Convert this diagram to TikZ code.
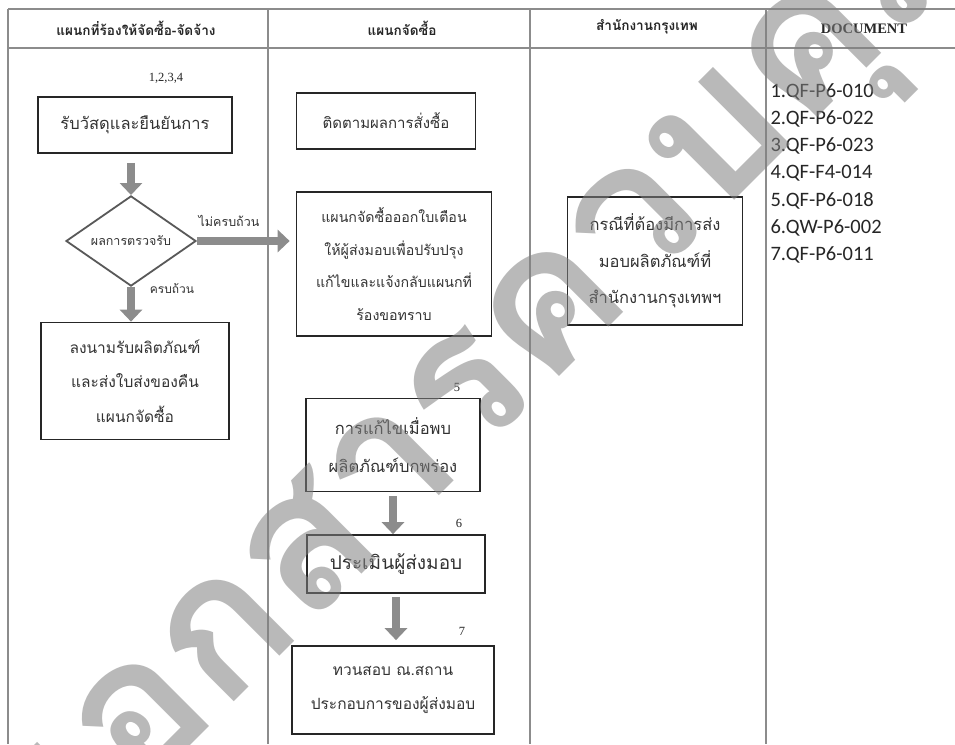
\documentclass[tikz,border=0pt]{standalone}
\usepackage{fontspec}
\setmainfont{Liberation Serif}
\newfontfamily\thai[Script=Thai]{Loma}
\newfontfamily\docfont{Carlito}
\usetikzlibrary{arrows.meta,shapes.geometric}

\begin{document}
\begin{tikzpicture}[x=1pt,y=-1pt,
  grid/.style={draw=black!45, line width=1.3pt},
  head/.style={font=\thai\bfseries\fontsize{13.6}{15}\selectfont, text=black!85},
  box/.style={draw=black!85, line width=1.7pt, align=center, inner sep=0pt,
              text=black!80, font=\thai\fontsize{15}{33}\selectfont},
  dia/.style={diamond, draw=black!65, line width=1.8pt, inner sep=0pt,
              minimum width=130pt, minimum height=82pt, text=black!80,
              font=\thai\fontsize{12.5}{14}\selectfont},
  lbl/.style={text=black!80, font=\thai\fontsize{12.5}{14}\selectfont},
  num/.style={text=black!85, font=\fontsize{12.5}{14}\selectfont},
  doc/.style={anchor=west, text=black!85, font=\docfont\fontsize{20.5}{24}\selectfont},
  flow/.style={draw=black!45, line width=8pt,
               -{Triangle[width=22pt,length=12pt]}},
]
\useasboundingbox (0,0) rectangle (955,744);
\fill[white] (0,0) rectangle (955,744);

% swimlane table
\draw[grid] (8,9) -- (955,9);
\draw[grid] (8,48) -- (955,48);
\foreach \xx in {8,268,530,766} \draw[grid] (\xx,9) -- (\xx,744);

% lane headings
\node[head] (h1) at (136,28) {แผนกที่ร้องให้จัดซื้อ-จัดจ้าง};
\node[head] (h2) at (402,28) {แผนกจัดซื้อ};
\node[head] (h3) at (647,27) {สำนักงานกรุงเทพ};
\node[font=\bfseries\fontsize{14.5}{16}\selectfont, text=black!85] (h4) at (864,29) {DOCUMENT};

% requesting department
\node[num] (n1) at (166,78) {1,2,3,4};
\node[box, minimum width=194pt, minimum height=56pt, font=\thai\fontsize{16.5}{20}\selectfont] (b1) at (135,125) {รับวัสดุและยืนยันการ};
\node[dia] (d) at (131,241) {ผลการตรวจรับ};
\node[box, minimum width=188pt, minimum height=117pt, font=\thai\fontsize{15.5}{34.5}\selectfont] (b4) at (135,381)
  {ลงนามรับผลิตภัณฑ์\\และส่งใบส่งของคืน\\แผนกจัดซื้อ};
\node[lbl] (l1) at (229,221) {ไม่ครบถ้วน};
\node[lbl, font=\thai\fontsize{12}{14}\selectfont] (l2) at (172,289) {ครบถ้วน};

% purchasing department
\node[box, minimum width=179pt, minimum height=56pt, font=\thai\fontsize{15}{20}\selectfont] (b2) at (386,121) {ติดตามผลการสั่งซื้อ};
\node[box, minimum width=195pt, minimum height=144pt, font=\thai\fontsize{14.2}{32.7}\selectfont] (b3) at (394,264)
  {แผนกจัดซื้อออกใบเตือน\\ให้ผู้ส่งมอบเพื่อปรับปรุง\\แก้ไขและแจ้งกลับแผนกที่\\ร้องขอทราบ};
\node[num] (n5) at (457,387) {5};
\node[box, minimum width=174pt, minimum height=93pt, font=\thai\fontsize{16.5}{38}\selectfont] (b5) at (393,445)
  {การแก้ไขเมื่อพบ\\ผลิตภัณฑ์บกพร่อง};
\node[num] (n6) at (459,523) {6};
\node[box, minimum width=178pt, minimum height=58pt, font=\thai\fontsize{19}{22}\selectfont] (b6) at (396,564) {ประเมินผู้ส่งมอบ};
\node[num] (n7) at (462,631) {7};
\node[box, minimum width=202pt, minimum height=88pt, font=\thai\fontsize{15.5}{34}\selectfont] (b7) at (393,690)
  {ทวนสอบ ณ.สถาน\\ประกอบการของผู้ส่งมอบ};

% Bangkok office
\node[box, minimum width=175pt, minimum height=128pt, font=\thai\fontsize{16.5}{36.5}\selectfont] (b8) at (655,261)
  {กรณีที่ต้องมีการส่ง\\มอบผลิตภัณฑ์ที่\\สำนักงานกรุงเทพฯ};

% document list
\foreach \t [count=\i from 0] in {1.QF-P6-010,2.QF-P6-022,3.QF-P6-023,4.QF-F4-014,5.QF-P6-018,6.QW-P6-002,7.QF-P6-011}
  \node[doc] (doc\i) at (767,{92+27.2*\i}) {\t};

% flow arrows
\draw[flow, shorten <=9pt] (b1.south -| d.north) -- (d.north);
\draw[flow] (d.south) -- (d.south |- b4.north);
\draw[flow, shorten >=6pt] (d.east) -- (d.east -| b3.west);
\draw[flow, shorten <=4pt] (b5.south) -- (b5.south |- b6.north);
\draw[flow, shorten <=3pt, shorten >=5pt] (b6.south) -- (b6.south |- b7.north);

% controlled-copy stamp across the sheet
\node[rotate=45, text=black!50, opacity=0.55,
      font=\thai\bfseries\fontsize{196}{196}\selectfont] (wm) at (515,375) {เอกสารควบคุม};
\end{tikzpicture}
\end{document}
